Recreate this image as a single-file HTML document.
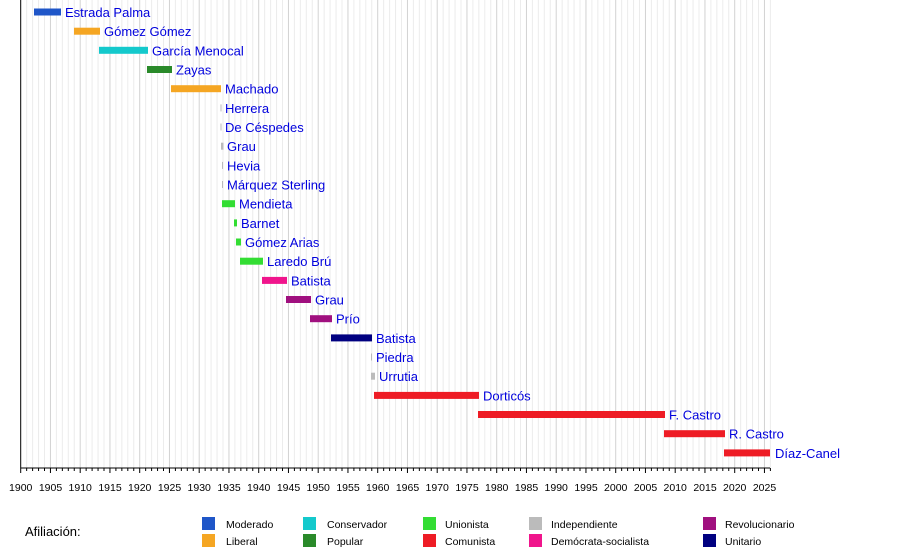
<!DOCTYPE html>
<html><head><meta charset="utf-8"><style>
body{margin:0;background:#fff;width:900px;height:550px;overflow:hidden}
svg{font-family:"Liberation Sans",sans-serif}
.l{font-size:13px;fill:#0000dd}
.t{font-size:10.5px;fill:#000}
.g{font-size:10.5px;fill:#000}
</style></head><body>
<svg width="900" height="550" xmlns="http://www.w3.org/2000/svg">
<g id="grid"></g>
<line x1="20.7" y1="0" x2="20.7" y2="468" stroke="#000" stroke-width="1"/>
<line x1="20.7" y1="468" x2="770" y2="468" stroke="#000" stroke-width="1"/>
<g id="ticks"></g>
<g>
<rect x="34" y="8.5" width="27" height="7" fill="#1f56c8"/><text class="l" x="65" y="17">Estrada Palma</text>
<rect x="74" y="27.7" width="26" height="7" fill="#f5a623"/><text class="l" x="104" y="36.2">Gómez Gómez</text>
<rect x="99" y="46.8" width="49" height="7" fill="#14c9cc"/><text class="l" x="152" y="55.3">García Menocal</text>
<rect x="147" y="66" width="25" height="7" fill="#2a8a2a"/><text class="l" x="176" y="74.5">Zayas</text>
<rect x="171" y="85.2" width="50" height="7" fill="#f5a623"/><text class="l" x="225" y="93.7">Machado</text>
<rect x="220.5" y="104.4" width="1" height="7" fill="#bbb"/><text class="l" x="225" y="112.9">Herrera</text>
<rect x="220.5" y="123.5" width="1" height="7" fill="#bbb"/><text class="l" x="225" y="132">De Céspedes</text>
<rect x="221" y="142.7" width="2.5" height="7" fill="#bbb"/><text class="l" x="227" y="151.2">Grau</text>
<rect x="222" y="161.9" width="1" height="7" fill="#bbb"/><text class="l" x="227" y="170.4">Hevia</text>
<rect x="222" y="181" width="1" height="7" fill="#bbb"/><text class="l" x="227" y="189.5">Márquez Sterling</text>
<rect x="222" y="200.2" width="13" height="7" fill="#33dd33"/><text class="l" x="239" y="208.7">Mendieta</text>
<rect x="234" y="219.4" width="3" height="7" fill="#33dd33"/><text class="l" x="241" y="227.9">Barnet</text>
<rect x="236" y="238.5" width="5" height="7" fill="#33dd33"/><text class="l" x="245" y="247">Gómez Arias</text>
<rect x="240" y="257.7" width="23" height="7" fill="#33dd33"/><text class="l" x="267" y="266.2">Laredo Brú</text>
<rect x="262" y="276.9" width="25" height="7" fill="#f0158c"/><text class="l" x="291" y="285.4">Batista</text>
<rect x="286" y="296" width="25" height="7" fill="#a0107f"/><text class="l" x="315" y="304.5">Grau</text>
<rect x="310" y="315.2" width="22" height="7" fill="#a0107f"/><text class="l" x="336" y="323.7">Prío</text>
<rect x="331" y="334.4" width="41" height="7" fill="#000080"/><text class="l" x="376" y="342.9">Batista</text>
<rect x="371" y="353.5" width="1" height="7" fill="#bbb"/><text class="l" x="376" y="362">Piedra</text>
<rect x="371" y="372.7" width="4" height="7" fill="#bbb"/><text class="l" x="379" y="381.2">Urrutia</text>
<rect x="374" y="391.9" width="105" height="7" fill="#ee1c25"/><text class="l" x="483" y="400.4">Dorticós</text>
<rect x="478" y="411" width="187" height="7" fill="#ee1c25"/><text class="l" x="669" y="419.5">F. Castro</text>
<rect x="664" y="430.2" width="61" height="7" fill="#ee1c25"/><text class="l" x="729" y="438.7">R. Castro</text>
<rect x="724" y="449.4" width="46" height="7" fill="#ee1c25"/><text class="l" x="775" y="457.9">Díaz-Canel</text>
</g>
<g class="t" text-anchor="middle">
<text x="20.7" y="491">1900</text><text x="50.5" y="491">1905</text><text x="80.2" y="491">1910</text><text x="110" y="491">1915</text><text x="139.7" y="491">1920</text><text x="169.5" y="491">1925</text><text x="199.2" y="491">1930</text><text x="229" y="491">1935</text><text x="258.7" y="491">1940</text><text x="288.5" y="491">1945</text><text x="318.2" y="491">1950</text><text x="348" y="491">1955</text><text x="377.7" y="491">1960</text><text x="407.5" y="491">1965</text><text x="437.2" y="491">1970</text><text x="467" y="491">1975</text><text x="496.7" y="491">1980</text><text x="526.5" y="491">1985</text><text x="556.2" y="491">1990</text><text x="586" y="491">1995</text><text x="615.7" y="491">2000</text><text x="645.5" y="491">2005</text><text x="675.2" y="491">2010</text><text x="705" y="491">2015</text><text x="734.7" y="491">2020</text><text x="764.5" y="491">2025</text>
</g>
<text x="25" y="536" style="font-size:13px" fill="#000">Afiliación:</text>
<g class="g">
<rect x="202" y="517" width="13" height="13" fill="#1f56c8"/><text x="226" y="528">Moderado</text>
<rect x="202" y="534" width="13" height="13" fill="#f5a623"/><text x="226" y="545">Liberal</text>
<rect x="303" y="517" width="13" height="13" fill="#14c9cc"/><text x="327" y="528">Conservador</text>
<rect x="303" y="534" width="13" height="13" fill="#2a8a2a"/><text x="327" y="545">Popular</text>
<rect x="423" y="517" width="13" height="13" fill="#33dd33"/><text x="445" y="528">Unionista</text>
<rect x="423" y="534" width="13" height="13" fill="#ee1c25"/><text x="445" y="545">Comunista</text>
<rect x="529" y="517" width="13" height="13" fill="#bbb"/><text x="551" y="528">Independiente</text>
<rect x="529" y="534" width="13" height="13" fill="#f0158c"/><text x="551" y="545">Demócrata-socialista</text>
<rect x="703" y="517" width="13" height="13" fill="#a0107f"/><text x="725" y="528">Revolucionario</text>
<rect x="703" y="534" width="13" height="13" fill="#000080"/><text x="725" y="545">Unitario</text>
</g>
</svg>
<script>
var ns="http://www.w3.org/2000/svg",g=document.getElementById("grid"),t=document.getElementById("ticks");
for(var y=1901;y<=2026;y++){var x=20.7+(y-1900)*5.95;var m=(y%5==0);
var l=document.createElementNS(ns,"line");l.setAttribute("x1",x);l.setAttribute("x2",x);l.setAttribute("y1",0);l.setAttribute("y2",468);l.setAttribute("stroke",m?"#d2d2d2":"#ececec");l.setAttribute("stroke-width",1);g.appendChild(l);}
for(var y=1900;y<=2026;y++){var x=20.7+(y-1900)*5.95;var m=(y%5==0);
var l=document.createElementNS(ns,"line");l.setAttribute("x1",x);l.setAttribute("x2",x);l.setAttribute("y1",468);l.setAttribute("y2",m?473:471);l.setAttribute("stroke","#000");t.appendChild(l);}
</script>
</body></html>
